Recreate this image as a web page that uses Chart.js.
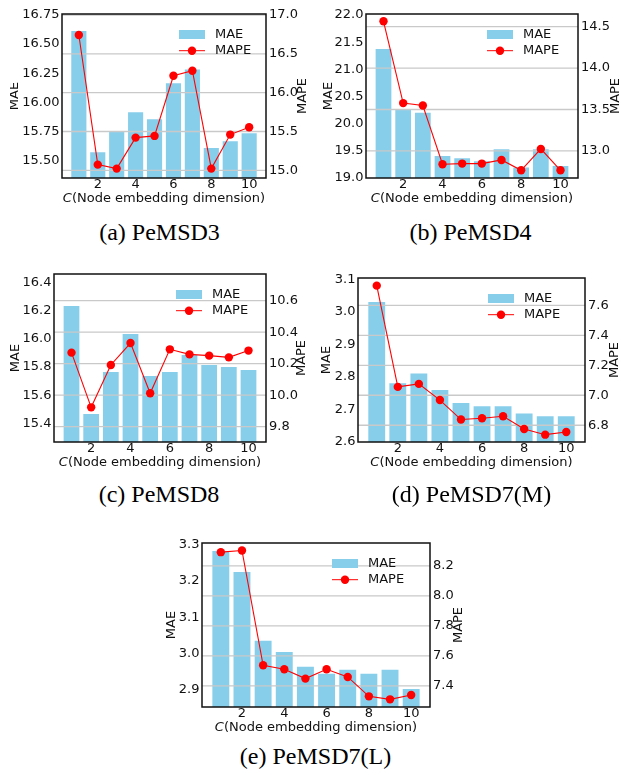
<!DOCTYPE html>
<html><head><meta charset="utf-8">
<script src="https://cdn.jsdelivr.net/npm/chart.js@4.4.0/dist/chart.umd.min.js"></script>
<style>
html,body{margin:0;padding:0;background:#fff;width:621px;height:775px;overflow:hidden;position:relative}
canvas{position:absolute}
.cap{position:absolute;font-family:"Liberation Serif","Times New Roman",serif;font-size:24px;line-height:24px;white-space:nowrap;transform:translate(-50%,-50%);color:#000}
</style></head><body>
<script>
// ---------- data ----------
const categories = [1, 2, 3, 4, 5, 6, 7, 8, 9, 10];
const xTickValues = [2, 4, 6, 8, 10];
const xRange = [0.11, 10.89];

const pemsd3MAE  = [16.612, 15.569, 15.750, 15.914, 15.853, 16.164, 16.282, 15.606, 15.664, 15.733];
const pemsd3MAPE = [16.742, 15.073, 15.022, 15.421, 15.443, 16.217, 16.282, 15.022, 15.460, 15.555];
const pemsd3MaeTicks  = ["15.50", "15.75", "16.00", "16.25", "16.50", "16.75"];
const pemsd3MapeTicks = ["15.0", "15.5", "16.0", "16.5", "17.0"];
const pemsd3MaeRange  = [15.348, 16.759];
const pemsd3MapeRange = [14.901, 17.013];

const pemsd4MAE  = [21.373, 20.267, 20.199, 19.406, 19.363, 19.308, 19.529, 19.191, 19.529, 19.222];
const pemsd4MAPE = [14.565, 13.577, 13.548, 12.839, 12.847, 12.847, 12.891, 12.766, 13.024, 12.766];
const pemsd4MaeTicks  = ["19.0", "19.5", "20.0", "20.5", "21.0", "21.5", "22.0"];
const pemsd4MapeTicks = ["13.0", "13.5", "14.0", "14.5"];
const pemsd4MaeRange  = [19.0, 22.018];
const pemsd4MapeRange = [12.673, 14.653];

const pemsd8MAE  = [16.234, 15.466, 15.765, 16.035, 15.736, 15.765, 15.886, 15.815, 15.800, 15.779];
const pemsd8MAPE = [10.270, 9.923, 10.192, 10.331, 10.012, 10.291, 10.259, 10.251, 10.240, 10.283];
const pemsd8MaeTicks  = ["15.4", "15.6", "15.8", "16.0", "16.2", "16.4"];
const pemsd8MapeTicks = ["9.8", "10.0", "10.2", "10.4", "10.6"];
const pemsd8MaeRange  = [15.267, 16.462];
const pemsd8MapeRange = [9.703, 10.769];

const pemsd7mMAE  = [3.031, 2.781, 2.811, 2.760, 2.720, 2.710, 2.710, 2.688, 2.679, 2.679];
const pemsd7mMAPE = [7.732, 7.056, 7.076, 6.968, 6.838, 6.847, 6.860, 6.775, 6.737, 6.755];
const pemsd7mMaeTicks  = ["2.6", "2.7", "2.8", "2.9", "3.0", "3.1"];
const pemsd7mMapeTicks = ["6.8", "7.0", "7.2", "7.4", "7.6"];
const pemsd7mMaeRange  = [2.6, 3.105];
const pemsd7mMapeRange = [6.688, 7.783];

const pemsd7lMAE  = [3.283, 3.225, 3.035, 3.004, 2.963, 2.944, 2.955, 2.944, 2.955, 2.902];
const pemsd7lMAPE = [8.291, 8.302, 7.538, 7.511, 7.449, 7.511, 7.460, 7.331, 7.311, 7.340];
const pemsd7lMaeTicks  = ["2.9", "3.0", "3.1", "3.2", "3.3"];
const pemsd7lMapeTicks = ["7.4", "7.6", "7.8", "8.0", "8.2"];
const pemsd7lMaeRange  = [2.852, 3.305];
const pemsd7lMapeRange = [7.260, 8.352];

const seriesNames = ["MAE", "MAPE"];
const xTitleItalic = "C";
const xTitleRest = "(Node embedding dimension)";

// ---------- layout ----------
const panels = [
  {caption: "(a) PeMSD3", mae: pemsd3MAE, mape: pemsd3MAPE, maeTicks: pemsd3MaeTicks, mapeTicks: pemsd3MapeTicks, maeRange: pemsd3MaeRange, mapeRange: pemsd3MapeRange,
   frame: [62, 14, 266, 178], maeDx: 47, mapeDx: 36.3, legDx: 87, cap: [159.5, 232]},
  {caption: "(b) PeMSD4", mae: pemsd4MAE, mape: pemsd4MAPE, maeTicks: pemsd4MaeTicks, mapeTicks: pemsd4MapeTicks, maeRange: pemsd4MaeRange, mapeRange: pemsd4MapeRange,
   frame: [366, 14, 578, 178], maeDx: 37.7, mapeDx: 37.3, legDx: 91, cap: [470.5, 232]},
  {caption: "(c) PeMSD8", mae: pemsd8MAE, mape: pemsd8MAPE, maeTicks: pemsd8MaeTicks, mapeTicks: pemsd8MapeTicks, maeRange: pemsd8MaeRange, mapeRange: pemsd8MapeRange,
   frame: [54, 274, 266, 442], maeDx: 38.7, mapeDx: 36, legDx: 90, cap: [159, 493.5]},
  {caption: "(d) PeMSD7(M)", mae: pemsd7mMAE, mape: pemsd7mMAPE, maeTicks: pemsd7mMaeTicks, mapeTicks: pemsd7mMapeTicks, maeRange: pemsd7mMaeRange, mapeRange: pemsd7mMapeRange,
   frame: [358, 278, 585, 442], maeDx: 31.6, mapeDx: 30, legDx: 97, cap: [471.5, 493.5]},
  {caption: "(e) PeMSD7(L)", mae: pemsd7lMAE, mape: pemsd7lMAPE, maeTicks: pemsd7lMaeTicks, mapeTicks: pemsd7lMapeTicks, maeRange: pemsd7lMaeRange, mapeRange: pemsd7lMapeRange,
   frame: [202, 543, 430, 707], maeDx: 30, mapeDx: 28.3, legDx: 98, cap: [315.5, 756]}
];

const ML = 52, MR = 44, MT = 12, MB = 34;
const FONT = '"DejaVu Sans", Verdana, sans-serif';
const BAR_COLOR = '#87CEEB';
const LINE_COLOR = '#ff0000';
const TEXT_COLOR = '#111';

const decoPlugin = {
  id: 'deco',
  afterDatasetDraw(chart, args) {
    if (args.meta.type !== 'bar') return;
    const ctx = chart.ctx, a = chart.chartArea, y1 = chart.scales.y1;
    ctx.save();
    ctx.strokeStyle = '#c9c9c9';
    ctx.lineWidth = 1.3;
    y1.ticks.forEach(t => {
      const py = y1.getPixelForValue(t.value);
      if (py < a.top - 1 || py > a.bottom + 1) return;
      ctx.beginPath(); ctx.moveTo(a.left, py); ctx.lineTo(a.right, py); ctx.stroke();
    });
    ctx.restore();
  },
  afterDraw(chart, args, opts) {
    const ctx = chart.ctx, a = chart.chartArea;
    ctx.save();
    // frame
    ctx.strokeStyle = '#111';
    ctx.lineWidth = 1.5;
    ctx.strokeRect(a.left, a.top, a.right - a.left, a.bottom - a.top);
    // legend
    const lx = a.right - opts.legDx, ly = a.top + 16;
    ctx.fillStyle = BAR_COLOR;
    ctx.fillRect(lx, ly, 26, 9);
    ctx.strokeStyle = LINE_COLOR; ctx.lineWidth = 1;
    const ry = ly + 4.5 + 16.2;
    ctx.beginPath(); ctx.moveTo(lx, ry); ctx.lineTo(lx + 26, ry); ctx.stroke();
    ctx.fillStyle = LINE_COLOR;
    ctx.beginPath(); ctx.arc(lx + 13, ry, 4.2, 0, Math.PI * 2); ctx.fill();
    ctx.fillStyle = TEXT_COLOR;
    ctx.font = '13px ' + FONT;
    ctx.textAlign = 'left'; ctx.textBaseline = 'middle';
    ctx.fillText(seriesNames[0], lx + 36, ly + 4.5);
    ctx.fillText(seriesNames[1], lx + 36, ry);
    // x title
    const cx = (a.left + a.right) / 2, ty = a.bottom + 21;
    ctx.font = 'italic 13px ' + FONT;
    const w1 = ctx.measureText(xTitleItalic).width;
    ctx.font = '13px ' + FONT;
    const w2 = ctx.measureText(xTitleRest).width;
    const sx = cx - (w1 + w2) / 2;
    ctx.font = 'italic 13px ' + FONT;
    ctx.fillText(xTitleItalic, sx, ty);
    ctx.font = '13px ' + FONT;
    ctx.fillText(xTitleRest, sx + w1, ty);
    // y titles
    const my = (a.top + a.bottom) / 2;
    ctx.textAlign = 'center';
    ctx.save(); ctx.translate(a.left - opts.maeDx, my); ctx.rotate(-Math.PI / 2);
    ctx.fillText(seriesNames[0], 0, 0); ctx.restore();
    ctx.save(); ctx.translate(a.right + opts.mapeDx, my); ctx.rotate(-Math.PI / 2);
    ctx.fillText(seriesNames[1], 0, 0); ctx.restore();
    ctx.restore();
  }
};

panels.forEach((p, i) => {
  const [L, T, R, B] = p.frame;
  const cv = document.createElement('canvas');
  const W = ML + (R - L) + MR, H = MT + (B - T) + MB;
  cv.width = W; cv.height = H;
  cv.style.left = (L - ML) + 'px'; cv.style.top = (T - MT) + 'px';
  cv.style.width = W + 'px'; cv.style.height = H + 'px';
  document.body.appendChild(cv);

  const cap = document.createElement('div');
  cap.className = 'cap';
  cap.textContent = p.caption;
  cap.style.left = p.cap[0] + 'px'; cap.style.top = p.cap[1] + 'px';
  document.body.appendChild(cap);

  const maeVals = p.maeTicks.map(Number), mapeVals = p.mapeTicks.map(Number);
  const tickFont = {family: FONT, size: 13, lineHeight: 1};

  new Chart(cv, {
    type: 'bar',
    data: {
      datasets: [
        {type: 'line', label: seriesNames[1], yAxisID: 'y1', order: 1,
         data: categories.map((c, k) => ({x: c, y: p.mape[k]})),
         borderColor: LINE_COLOR, borderWidth: 1.1, backgroundColor: LINE_COLOR,
         pointRadius: 4.2, pointBackgroundColor: LINE_COLOR, pointBorderWidth: 0,
         tension: 0, clip: false},
        {type: 'bar', label: seriesNames[0], yAxisID: 'y', order: 2,
         data: categories.map((c, k) => ({x: c, y: p.mae[k]})),
         backgroundColor: BAR_COLOR, borderWidth: 0,
         categoryPercentage: 1.0, barPercentage: 0.8}
      ]
    },
    options: {
      responsive: false, maintainAspectRatio: false, animation: false, devicePixelRatio: 1,
      events: [],
      layout: {padding: {top: MT, left: 0, right: 0, bottom: 0}},
      plugins: {legend: {display: false}, tooltip: {enabled: false},
        deco: {legDx: p.legDx, maeDx: p.maeDx, mapeDx: p.mapeDx}},
      scales: {
        x: {type: 'linear', position: 'bottom', min: xRange[0], max: xRange[1], offset: false,
            grid: {display: false, drawTicks: false}, border: {display: false},
            afterBuildTicks: s => { s.ticks = xTickValues.map(v => ({value: v})); },
            afterFit: s => { s.height = MB; },
            ticks: {autoSkip: false, maxRotation: 0, padding: 0, color: TEXT_COLOR, font: tickFont,
                    callback: v => String(v)}},
        y: {type: 'linear', position: 'left', min: p.maeRange[0], max: p.maeRange[1],
            grid: {display: false, drawTicks: false}, border: {display: false},
            afterBuildTicks: s => { s.ticks = maeVals.map(v => ({value: v})); },
            afterFit: s => { s.width = ML; },
            ticks: {autoSkip: false, padding: 2.5, color: TEXT_COLOR, font: tickFont,
                    callback: (v, k) => p.maeTicks[k]}},
        y1: {type: 'linear', position: 'right', min: p.mapeRange[0], max: p.mapeRange[1],
            grid: {display: false, drawTicks: false}, border: {display: false},
            afterBuildTicks: s => { s.ticks = mapeVals.map(v => ({value: v})); },
            afterFit: s => { s.width = MR; },
            ticks: {autoSkip: false, padding: 3, color: TEXT_COLOR, font: tickFont,
                    callback: (v, k) => p.mapeTicks[k]}}
      }
    },
    plugins: [decoPlugin]
  });
});
</script>
</body></html>
